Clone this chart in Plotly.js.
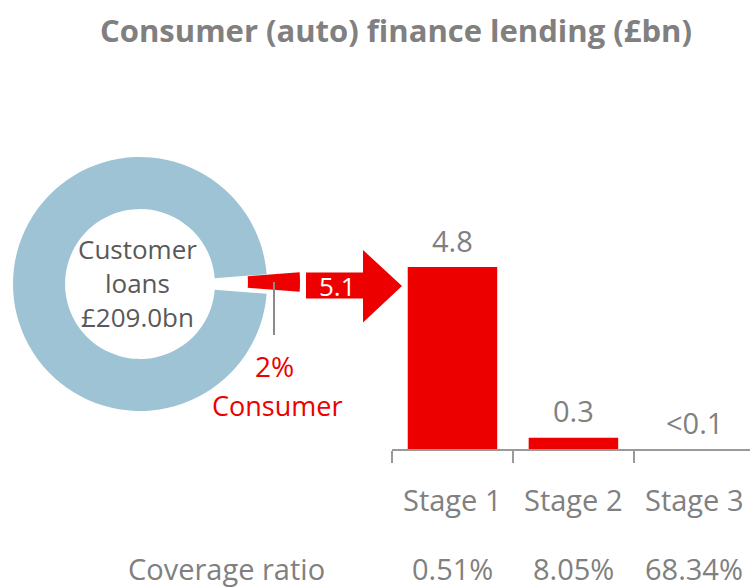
<!DOCTYPE html>
<html><head><meta charset="utf-8">
<script src="https://cdn.plot.ly/plotly-3.0.1.min.js"></script>
<style>html,body{margin:0;padding:0;background:#fff}#chart{width:750px;height:588px}</style>
</head><body><div id="chart"></div>
<script>
// ---- data ----
const chartTitle = 'Consumer (auto) finance lending (£bn)';
const donutLabels = ['Consumer', 'Other customer loans'];
const donutValues = [5.1, 203.9];
const totalLoansText = '£209.0bn';
const consumerShareText = '2%';
const consumerAmountText = '5.1';
const categories = ['Stage 1', 'Stage 2', 'Stage 3'];
const stageValues = [4.8, 0.3, 0];   // Stage 3 is "<0.1": no visible bar
const stageText = ['4.8', '0.3', '<0.1'];
const coverageLabel = 'Coverage ratio';
const coverageRatios = ['0.51%', '8.05%', '68.34%'];

// ---- styling helpers ----
const W = 750, H = 588;
const px = x => x / W;
const py = y => 1 - y / H;
const RED = '#ec0000', BLUE = '#9dc3d4', GREY = '#808080', DARK = '#595959';
const FONT = 'Open Sans';
const total = donutValues.reduce((a, b) => a + b, 0);
const rot = 90 - 360 * donutValues[0] / total / 2;

const cx = 140, cy = 284, R = 127, shift = 33;
const pieCommon = {
  type: 'pie', values: donutValues, labels: donutLabels, hole: 0.59,
  sort: false, direction: 'clockwise', rotation: rot,
  textinfo: 'none', hoverinfo: 'label+value', showlegend: false
};
const traces = [
  Object.assign({}, pieCommon, {
    marker: {colors: ['rgba(0,0,0,0)', BLUE]},
    domain: {x: [px(cx - R), px(cx + R)], y: [py(cy + R), py(cy - R)]}
  }),
  Object.assign({}, pieCommon, {
    marker: {colors: [RED, 'rgba(0,0,0,0)']},
    domain: {x: [px(cx + shift - R), px(cx + shift + R)], y: [py(cy - 2 + R), py(cy - 2 - R)]}
  }),
  {
    type: 'bar', x: categories, y: stageValues, width: 0.74,
    marker: {color: RED}, hoverinfo: 'x+y', showlegend: false,
    xaxis: 'x', yaxis: 'y'
  }
];

function ann(o) {
  return Object.assign({showarrow: false, xanchor: 'center', yanchor: 'middle'}, o);
}
const annotations = [];
categories.forEach((c, i) => {
  annotations.push(ann({x: c, y: stageValues[i], xref: 'x', yref: 'y', text: stageText[i],
    yshift: 27, font: {family: FONT, size: 29, color: GREY}}));
  annotations.push(ann({x: c, y: py(499), xref: 'x', yref: 'paper', text: c,
    font: {family: FONT, size: 29, color: GREY}}));
  annotations.push(ann({x: c, y: py(568), xref: 'x', yref: 'paper', text: coverageRatios[i],
    font: {family: FONT, size: 29, color: GREY}}));
});
annotations.push(ann({x: px(226), y: py(568), xref: 'paper', yref: 'paper', text: coverageLabel,
  font: {family: FONT, size: 29, color: GREY}}));
annotations.push(ann({x: px(137), y: py(283), xref: 'paper', yref: 'paper',
  text: 'Customer<br>loans<br>' + totalLoansText, align: 'center',
  font: {family: FONT, size: 26, color: DARK}}));
annotations.push(ann({x: px(274), y: py(366), xref: 'paper', yref: 'paper', text: consumerShareText,
  font: {family: FONT, size: 28, color: RED}}));
annotations.push(ann({x: px(277), y: py(405), xref: 'paper', yref: 'paper', text: 'Consumer',
  font: {family: FONT, size: 27, color: RED}}));
annotations.push(ann({x: px(337), y: py(286), xref: 'paper', yref: 'paper', text: consumerAmountText,
  font: {family: FONT, size: 26, color: '#ffffff'}}));

const arrowPts = [[306, 272.5], [363, 272.5], [363, 250], [402, 286], [363, 322.5], [363, 298.5], [306, 298.5]];
const arrowPath = 'M ' + arrowPts.map(p => px(p[0]) + ',' + py(p[1])).join(' L ') + ' Z';

const layout = {
  width: W, height: H,
  margin: {l: 0, r: 0, t: 0, b: 0, pad: 0},
  paper_bgcolor: '#fff', plot_bgcolor: 'rgba(0,0,0,0)',
  showlegend: false,
  title: {text: '<b>' + chartTitle + '</b>', x: px(396), xanchor: 'center', xref: 'paper',
    y: py(31), yanchor: 'middle', yref: 'paper', font: {family: FONT, size: 31, color: GREY}},
  xaxis: {type: 'category', domain: [px(392), 1], range: [-0.5, 2.46],
    showline: true, linecolor: '#9a9a9a', linewidth: 1.5, ticks: 'outside', tickson: 'boundaries',
    ticklen: 12, tickwidth: 1.5, tickcolor: '#9a9a9a', showticklabels: false,
    showgrid: false, zeroline: false, fixedrange: true},
  yaxis: {domain: [py(449), py(449 - 6 * 37.9)], range: [0, 6], visible: false, fixedrange: true},
  shapes: [
    {type: 'path', xref: 'paper', yref: 'paper', path: arrowPath, fillcolor: RED, line: {width: 0}},
    {type: 'line', xref: 'paper', yref: 'paper', x0: px(274), x1: px(274), y0: py(282), y1: py(335),
      line: {color: '#8a8a8a', width: 2}}
  ],
  annotations: annotations
};

Plotly.newPlot('chart', traces, layout, {displayModeBar: false, staticPlot: true});
</script>
</body></html>
